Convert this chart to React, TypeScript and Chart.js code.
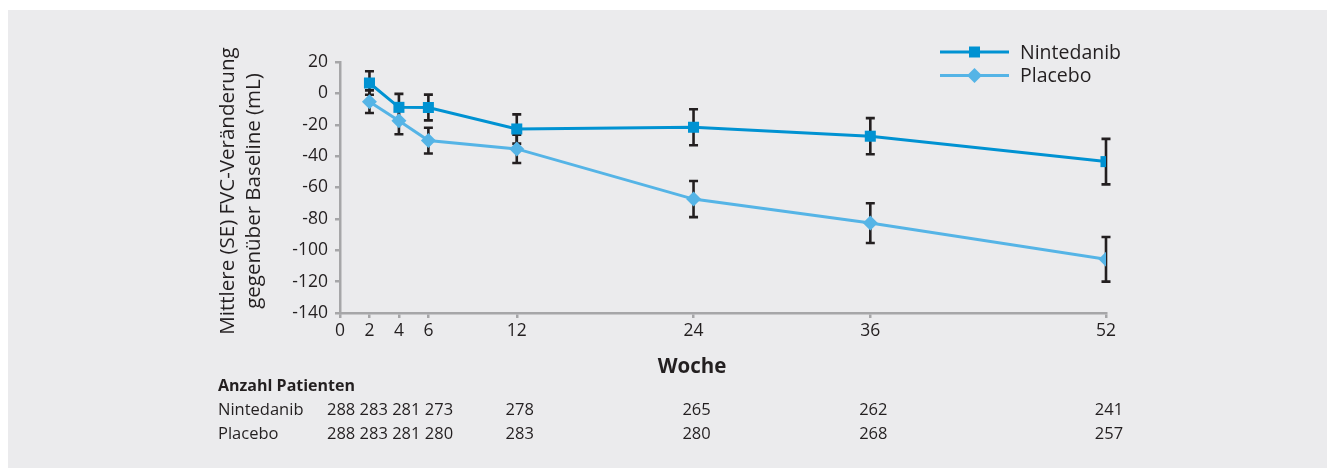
import React, { useEffect, useRef } from "react";
import { Chart, registerables } from "chart.js";

Chart.register(...registerables);

const weeks = [2, 4, 6, 12, 24, 36, 52];
const nintedanib = [6.6, -8.9, -9.0, -22.7, -21.6, -27.3, -43.5];
const nintedanibSE = [7.5, 8.6, 8.2, 9.3, 11.5, 11.5, 14.5];
const placebo = [-5.3, -17.4, -30.1, -35.4, -67.4, -82.7, -105.8];
const placeboSE = [7.2, 8.7, 8.2, 9.0, 11.5, 12.7, 14.2];

const xTickValues = [0, 2, 4, 6, 12, 24, 36, 52];
const countWeeks = [0, 2, 4, 6, 12, 24, 36, 52];
const nintedanibCounts = [288, 283, 281, 273, 278, 265, 262, 241];
const placeboCounts = [288, 283, 281, 280, 283, 280, 268, 257];

const seriesNames = ["Nintedanib", "Placebo"];
const yTitleLines = ["Mittlere (SE) FVC-Veränderung", "gegenüber Baseline (mL)"];
const xTitle = "Woche";
const tableTitle = "Anzahl Patienten";

const FONT = '"Open Sans", sans-serif';
const TEXT = "#231f20";
const AXIS = "#a6a6a8";
const C_N = "#0092d2";
const C_P = "#55b4e6";
const BG = "#ebebed";

const overlay = {
  id: "overlay",
  beforeDatasetsDraw(chart: any) {
    const { ctx } = chart;
    const xs = chart.scales.x;
    const ys = chart.scales.y;
    ctx.save();
    ctx.strokeStyle = TEXT;
    ctx.lineWidth = 2.6;
    const draw = (vals: number[], se: number[]) => {
      vals.forEach((v, i) => {
        const x = xs.getPixelForValue(weeks[i]);
        const y1 = ys.getPixelForValue(v + se[i]);
        const y2 = ys.getPixelForValue(v - se[i]);
        ctx.beginPath();
        ctx.moveTo(x, y1);
        ctx.lineTo(x, y2);
        ctx.moveTo(x - 4.5, y1);
        ctx.lineTo(x + 4.5, y1);
        ctx.moveTo(x - 4.5, y2);
        ctx.lineTo(x + 4.5, y2);
        ctx.stroke();
      });
    };
    draw(nintedanib, nintedanibSE);
    draw(placebo, placeboSE);
    ctx.restore();
  },
  afterDraw(chart: any) {
    const { ctx } = chart;
    const xs = chart.scales.x;
    ctx.save();
    ctx.fillStyle = TEXT;

    // y title
    ctx.font = `20.5px ${FONT}`;
    ctx.textAlign = "center";
    ctx.textBaseline = "middle";
    yTitleLines.forEach((line, i) => {
      ctx.save();
      ctx.translate(220 + i * 26, 181);
      ctx.rotate(-Math.PI / 2);
      ctx.fillText(line, 0, 0);
      ctx.restore();
    });

    // x title
    ctx.font = `bold 20.5px ${FONT}`;
    ctx.fillText(xTitle, 684, 357);

    // legend
    const legendY = [42, 65.5];
    const colors = [C_N, C_P];
    legendY.forEach((ly, i) => {
      ctx.strokeStyle = colors[i];
      ctx.lineWidth = 3;
      ctx.beginPath();
      ctx.moveTo(932, ly);
      ctx.lineTo(1001, ly);
      ctx.stroke();
      ctx.fillStyle = colors[i];
      ctx.beginPath();
      if (i === 0) {
        ctx.rect(966.5 - 5.5, ly - 5.5, 11, 11);
      } else {
        ctx.moveTo(966.5, ly - 7.5);
        ctx.lineTo(974, ly);
        ctx.lineTo(966.5, ly + 7.5);
        ctx.lineTo(959, ly);
        ctx.closePath();
      }
      ctx.fill();
      ctx.fillStyle = TEXT;
      ctx.font = `19.5px ${FONT}`;
      ctx.textAlign = "left";
      ctx.fillText(seriesNames[i], 1012, ly + 1);
    });

    // patient table
    ctx.textAlign = "left";
    ctx.font = `bold 16px ${FONT}`;
    ctx.fillText(tableTitle, 210, 376);
    const rows = [nintedanibCounts, placeboCounts];
    const rowY = [400, 424];
    ctx.font = `16.5px ${FONT}`;
    rows.forEach((row, r) => {
      const y = rowY[r];
      ctx.textAlign = "left";
      ctx.fillText(seriesNames[r], 210, y);
      const early = row.slice(0, 4).join(" ");
      ctx.fillText(early, xs.getPixelForValue(countWeeks[0]) - 13, y);
      ctx.textAlign = "center";
      for (let i = 4; i < row.length; i++) {
        ctx.fillText(String(row[i]), xs.getPixelForValue(countWeeks[i]) + 3, y);
      }
    });
    ctx.restore();
  },
};

export default function App() {
  const ref = useRef<HTMLCanvasElement>(null);
  useEffect(() => {
    if (!ref.current) return;
    const chart = new Chart(ref.current, {
      type: "line",
      data: {
        datasets: [
          {
            label: seriesNames[0],
            data: weeks.map((w, i) => ({ x: w, y: nintedanib[i] })),
            borderColor: C_N,
            backgroundColor: C_N,
            borderWidth: 3,
            pointStyle: "rect",
            pointRadius: 7.8,
            pointBorderWidth: 0,
            pointBackgroundColor: C_N,
          },
          {
            label: seriesNames[1],
            data: weeks.map((w, i) => ({ x: w, y: placebo[i] })),
            borderColor: C_P,
            backgroundColor: C_P,
            borderWidth: 3,
            pointStyle: "rectRot",
            pointRadius: 7.5,
            pointBorderWidth: 0,
            pointBackgroundColor: C_P,
          },
        ],
      },
      options: {
        animation: false,
        responsive: false,
        maintainAspectRatio: false,
        layout: { padding: { left: 0, right: 221, top: 52, bottom: 0 } },
        plugins: { legend: { display: false }, tooltip: { enabled: false } },
        scales: {
          x: {
            type: "linear",
            min: 0,
            max: 52,
            afterBuildTicks: (s: any) => {
              s.ticks = xTickValues.map((v) => ({ value: v }));
            },
            afterFit: (s: any) => {
              s.height = 155;
            },
            grid: { drawOnChartArea: false, drawTicks: true, tickLength: 5, color: AXIS, lineWidth: 2.5 },
            border: { display: true, color: AXIS, width: 2.5 },
            ticks: {
              color: TEXT,
              font: { family: FONT, size: 17.5 },
              padding: 3,
              autoSkip: false,
              maxRotation: 0,
              callback: (v: any) => String(v),
            },
          },
          y: {
            min: -140,
            max: 20,
            afterFit: (s: any) => {
              s.width = 332;
            },
            grid: { drawOnChartArea: false, drawTicks: true, tickLength: 5, color: AXIS, lineWidth: 2.5 },
            border: { display: true, color: AXIS, width: 2.5 },
            ticks: {
              stepSize: 20,
              color: TEXT,
              font: { family: FONT, size: 17.5 },
              padding: 7,
              callback: (v: any) => String(v),
            },
          },
        },
      },
      plugins: [overlay],
    });
    return () => chart.destroy();
  }, []);
  return (
    <div style={{ position: "fixed", left: 8, top: 10, width: 1319, height: 458, background: BG, overflow: "hidden" }}>
      <canvas ref={ref} width={1319} height={458} style={{ display: "block", width: 1319, height: 458 }} />
    </div>
  );
}
